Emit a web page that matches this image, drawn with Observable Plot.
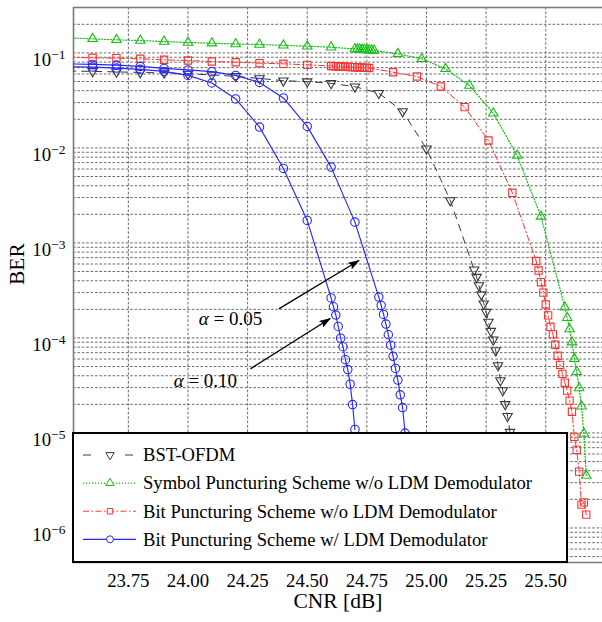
<!DOCTYPE html>
<html>
<head>
<meta charset="utf-8">
<script src="https://cdn.jsdelivr.net/npm/d3@7"></script>
<script src="https://cdn.jsdelivr.net/npm/@observablehq/plot@0.6"></script>
<style>
  html, body { margin: 0; padding: 0; background: #fff; }
  #chart { width: 602px; height: 622px; }
</style>
</head>
<body>
<div id="chart"></div>
<script>
const FONT = "'Liberation Serif', 'Times New Roman', Times, serif";

// ---- BER vs CNR results ----
// BST-OFDM
const bstCnr = [23.5, 23.6, 23.7, 23.8, 23.9, 24.0, 24.1, 24.2, 24.3, 24.4, 24.5, 24.6, 24.7, 24.8, 24.9, 25.0, 25.1,
  25.20, 25.21, 25.22, 25.23, 25.24, 25.25, 25.26, 25.27, 25.28, 25.29, 25.30, 25.31, 25.32, 25.33, 25.34, 25.35];
const bstBer = [0.0645, 0.0639, 0.0631, 0.0623, 0.0616, 0.0601, 0.0587, 0.0566, 0.0539, 0.0510, 0.0499, 0.0478, 0.0441, 0.0377, 0.0242, 0.00981, 0.00280,
  5.22e-4, 4.37e-4, 3.57e-4, 2.87e-4, 2.29e-4, 1.87e-4, 1.47e-4, 1.18e-4, 9.58e-5, 7.39e-5, 5.14e-5, 3.57e-5, 2.80e-5, 2.0e-5, 1.50e-5, 1.02e-5];

// Symbol puncturing scheme, no LDM demodulator
const symCnr = [23.5, 23.6, 23.7, 23.8, 23.9, 24.0, 24.1, 24.2, 24.3, 24.4, 24.5, 24.6,
  24.70, 24.71, 24.72, 24.73, 24.74, 24.75, 24.76, 24.77, 24.78,
  24.88, 24.98, 25.08, 25.18, 25.28, 25.38, 25.48,
  25.58, 25.59, 25.60, 25.61, 25.62, 25.63, 25.64, 25.65, 25.66, 25.67];
const symBer = [0.1441, 0.1407, 0.1373, 0.1350, 0.1318, 0.1287, 0.1265, 0.1241, 0.1226, 0.1202, 0.1176, 0.1148,
  0.1099, 0.1094, 0.1089, 0.1084, 0.1079, 0.1074, 0.1069, 0.1064, 0.1060,
  0.0978, 0.0867, 0.0680, 0.0454, 0.02319, 0.00832, 0.00190,
  2.10e-4, 1.63e-4, 1.24e-4, 9.02e-5, 6.03e-5, 4.41e-5, 2.97e-5, 1.91e-5, 9.86e-6, 3.56e-6];

// Bit puncturing scheme, no LDM demodulator
const bitCnr = [23.5, 23.6, 23.7, 23.8, 23.9, 24.0, 24.1, 24.2, 24.3, 24.4, 24.5,
  24.60, 24.61, 24.62, 24.63, 24.64, 24.65, 24.66, 24.67, 24.68, 24.69, 24.70, 24.71, 24.72, 24.73, 24.74, 24.75, 24.76,
  24.86, 24.96, 25.06, 25.16, 25.26, 25.36,
  25.46, 25.47, 25.48, 25.49, 25.50, 25.51, 25.52, 25.53, 25.54, 25.55, 25.56, 25.57, 25.58, 25.59, 25.60, 25.61,
  25.62, 25.63, 25.64, 25.65, 25.66, 25.67];
const bitBer = [0.0897, 0.0888, 0.0880, 0.0867, 0.0846, 0.0832, 0.0812, 0.0798, 0.0779, 0.0768, 0.0749,
  0.0728, 0.0726, 0.0724, 0.0722, 0.0719, 0.0717, 0.0715, 0.0713, 0.0711, 0.0709, 0.0707, 0.0705, 0.0703, 0.0700, 0.0698, 0.0696, 0.0694,
  0.0626, 0.0564, 0.0443, 0.0269, 0.01196, 0.00337,
  6.45e-4, 5.12e-4, 3.86e-4, 3.00e-4, 2.25e-4, 1.73e-4, 1.31e-4, 1.09e-4, 8.48e-5, 6.50e-5, 5.21e-5, 4.19e-5, 3.38e-5, 2.79e-5, 2.19e-5, 1.67e-5,
  9.10e-6, 6.64e-6, 3.92e-6, 1.76e-6, 1.86e-6, 1.38e-6];

// Bit puncturing scheme with LDM demodulator, alpha = 0.05
const ldm05Cnr = [23.5, 23.6, 23.7, 23.8, 23.9, 24.0, 24.1, 24.2, 24.3, 24.4, 24.5, 24.6, 24.7,
  24.80, 24.81, 24.82, 24.83, 24.84, 24.85, 24.86, 24.87, 24.88, 24.89, 24.90, 24.91];
const ldm05Ber = [0.0766, 0.0757, 0.0744, 0.0721, 0.0687, 0.0662, 0.0635, 0.0580, 0.0489, 0.0336, 0.01684, 0.00628, 0.001656,
  2.69e-4, 2.20e-4, 1.77e-4, 1.40e-4, 1.08e-4, 8.40e-5, 6.41e-5, 4.77e-5, 3.60e-5, 2.52e-5, 1.85e-5, 9.96e-6];

// Bit puncturing scheme with LDM demodulator, alpha = 0.10
const ldm10Cnr = [23.5, 23.6, 23.7, 23.8, 23.9, 24.0, 24.1, 24.2, 24.3, 24.4, 24.5,
  24.60, 24.61, 24.62, 24.63, 24.64, 24.65, 24.66, 24.67, 24.68, 24.69, 24.70];
const ldm10Ber = [0.0715, 0.0709, 0.0692, 0.0671, 0.0639, 0.0580, 0.0483, 0.0328, 0.01656, 0.00608, 0.001726,
  2.64e-4, 2.13e-4, 1.74e-4, 1.32e-4, 9.95e-5, 8.08e-5, 5.91e-5, 4.64e-5, 3.26e-5, 1.99e-5, 1.09e-5];

const legendLabels = [
  "BST-OFDM",
  "Symbol Puncturing Scheme w/o LDM Demodulator",
  "Bit Puncturing Scheme w/o LDM Demodulator",
  "Bit Puncturing Scheme w/ LDM Demodulator"
];

// axis ticks
const xTicks = [23.75, 24.0, 24.25, 24.5, 24.75, 25.0, 25.25, 25.5];
const yTicks = [1e-1, 1e-2, 1e-3, 1e-4, 1e-5, 1e-6];

// annotations for the two LDM power ratios
const alphaText = ["α = 0.05", "α = 0.10"];
const alphaTextCnr = [24.178, 24.073];
const alphaTextBer = [1.6e-4, 3.5e-5];
const arrowFromCnr = [24.381, 24.262];
const arrowFromBer = [2.02e-4, 4.73e-5];
const arrowToCnr = [24.717, 24.596];
const arrowToBer = [6.53e-4, 1.60e-4];

// ---- build tables ----
const zipSeries = (cnr, ber) => cnr.map((c, i) => ({cnr: c, ber: ber[i]}));

const styles = [
  {stroke: "#3a3a3a", dash: "7,6", symbol: "triangle", rotate: 180, r: 3.5, width: 1},
  {stroke: "#14c014", dash: "1.2,1.8", symbol: "triangle", rotate: 0, r: 3.5, width: 1.2},
  {stroke: "#ff3030", dash: "6,2.5,1.5,2.5", symbol: "square", rotate: 0, r: 4.1, width: 1},
  {stroke: "#2727ff", dash: null, symbol: "circle", rotate: 0, r: 4.2, width: 1.15}
];

const series = [
  {style: styles[0], data: [zipSeries(bstCnr, bstBer)]},
  {style: styles[1], data: [zipSeries(symCnr, symBer)]},
  {style: styles[2], data: [zipSeries(bitCnr, bitBer)]},
  {style: styles[3], data: [zipSeries(ldm05Cnr, ldm05Ber), zipSeries(ldm10Cnr, ldm10Ber)]}
];

const annot = alphaText.map((t, i) => ({text: t, cnr: alphaTextCnr[i], ber: alphaTextBer[i]}));
const arrows = arrowFromCnr.map((c, i) => ({x1: c, y1: arrowFromBer[i], x2: arrowToCnr[i], y2: arrowToBer[i]}));

const xDomain = [23.52, 25.738];
const yDomain = [4.33e-7, 0.3005];

// minor + major log grid
const gridBer = [];
for (let k = -7; k <= -1; k++) {
  for (let m = 1; m <= 9; m++) {
    const v = m * Math.pow(10, k);
    if (v > yDomain[0] && v < yDomain[1]) gridBer.push(v);
  }
}

const W = 602, H = 622;
const M = {top: 7, right: 0, bottom: 60, left: 73};
const gridStyle = {stroke: "#6a6a6a", strokeOpacity: 1, strokeWidth: 1, strokeDasharray: "2.6,1.8"};

const marks = [
  Plot.gridY(gridBer, gridStyle),
  Plot.gridX(xTicks, gridStyle),
  Plot.ruleY([yDomain[1], yDomain[0]], {stroke: "#7a7a7a", strokeWidth: 1.6}),
  Plot.ruleX([xDomain[0]], {stroke: "#7a7a7a", strokeWidth: 1.6}),
  Plot.axisX({ticks: xTicks, tickFormat: d3.format(".2f"), tickSize: 0, tickPadding: 11, fontSize: 18.8, label: null}),
  Plot.axisY({ticks: yTicks, tickFormat: d => "10^−" + Math.round(-Math.log10(d)), tickSize: 0, tickPadding: 8, fontSize: 18.8, dy: 7, label: null}),
  Plot.text(["BER"], {frameAnchor: "left", dx: -56, rotate: -90, fontSize: 21.5, text: d => d}),
  Plot.text(["CNR [dB]"], {frameAnchor: "bottom", dy: 45, fontSize: 21.5, text: d => d})
];

for (const s of series) {
  for (const d of s.data) {
    marks.push(Plot.line(d, {x: "cnr", y: "ber", stroke: s.style.stroke, strokeWidth: s.style.width,
      strokeDasharray: s.style.dash, clip: true}));
    marks.push(Plot.dot(d, {x: "cnr", y: "ber", symbol: s.style.symbol, r: s.style.r, rotate: s.style.rotate,
      stroke: s.style.stroke, fill: "none", strokeWidth: 1.1, clip: true}));
  }
}

marks.push(
  Plot.link(arrows, {x1: "x1", y1: "y1", x2: "x2", y2: "y2", stroke: "black", strokeWidth: 1.3}),
  Plot.text(annot, {x: "cnr", y: "ber", text: "text", fontSize: 19})
);

const chart = Plot.plot({
  width: W, height: H,
  marginTop: M.top, marginRight: M.right, marginBottom: M.bottom, marginLeft: M.left,
  x: {domain: xDomain},
  y: {type: "log", domain: yDomain},
  style: {fontFamily: FONT, background: "white", color: "black"},
  marks
});

document.getElementById("chart").appendChild(chart);
const svg = d3.select(chart);

// superscript exponents on the BER ticks; italic alpha in the annotations
svg.selectAll("text").each(function () {
  const t = this.textContent;
  const sel = d3.select(this);
  if (t.startsWith("10^")) {
    sel.text(null);
    sel.append("tspan").text("10");
    sel.append("tspan").attr("dy", "-6.5").attr("font-size", "13.5px").text(t.slice(3));
  } else if (t.startsWith("α")) {
    sel.text(null);
    sel.append("tspan").attr("font-style", "italic").text("α");
    sel.append("tspan").text(t.slice(1));
  }
});

// filled arrowheads
const defs = svg.append("defs");
defs.append("marker")
  .attr("id", "ahead").attr("viewBox", "0 0 12 8").attr("refX", 11).attr("refY", 4)
  .attr("markerWidth", 12).attr("markerHeight", 8).attr("markerUnits", "userSpaceOnUse").attr("orient", "auto")
  .append("path").attr("d", "M0,0 L12,4 L0,8 L2.5,4 Z").attr("fill", "black");
svg.selectAll('g[aria-label="link"] path').attr("marker-end", "url(#ahead)");

// legend box in the lower-left corner of the axes
const lg = svg.append("g").attr("font-family", FONT).attr("font-size", 18.6).attr("text-anchor", "start");
const lgLeft = M.left, lgBottom = H - M.bottom, lgW = 494, lgH = 129;
lg.append("rect").attr("x", lgLeft).attr("y", lgBottom - lgH).attr("width", lgW).attr("height", lgH)
  .attr("fill", "white").attr("stroke", "black").attr("stroke-width", 2);
const symbolTypes = {triangle: d3.symbolTriangle, square: d3.symbolSquare, circle: d3.symbolCircle};
legendLabels.forEach((label, i) => {
  const s = styles[i];
  const cy = lgBottom - lgH + 22 + i * 28.1;
  const x0 = lgLeft + 10, x1 = lgLeft + 63, xm = lgLeft + 37;
  lg.append("line").attr("x1", x0).attr("x2", x1).attr("y1", cy).attr("y2", cy)
    .attr("stroke", s.stroke).attr("stroke-width", s.width)
    .attr("stroke-dasharray", i === 0 ? "8,34" : s.dash);
  lg.append("path").attr("d", d3.symbol(symbolTypes[s.symbol], s.symbol === "circle" ? 38 : 30)())
    .attr("transform", `translate(${xm},${cy}) rotate(${s.rotate})`)
    .attr("fill", "white").attr("stroke", s.stroke).attr("stroke-width", 1);
  lg.append("text").attr("x", lgLeft + 70).attr("y", cy).attr("dy", "0.34em").attr("fill", "black")
    .attr("text-anchor", "start").text(label);
});
</script>
</body>
</html>
